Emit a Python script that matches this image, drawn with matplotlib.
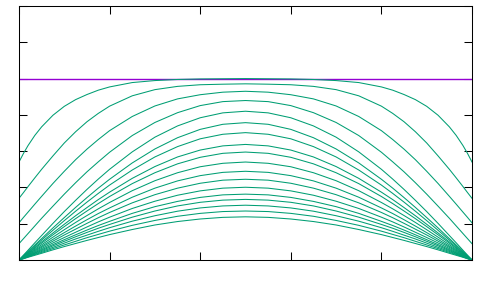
import matplotlib
matplotlib.use("Agg")
import matplotlib.pyplot as plt
import numpy as np

# x positions on the left half, the profiles are symmetric about x = 0.5
x_half = [0, 0.01, 0.02, 0.035, 0.05, 0.075, 0.1, 0.125, 0.15, 0.175,
          0.2, 0.25, 0.3, 0.35, 0.4, 0.45, 0.5]

# initial state
u0 = [1.0] * len(x_half)

# profiles, top to bottom
u1 = [0.540, 0.588, 0.631, 0.687, 0.734, 0.798, 0.847, 0.884, 0.912, 0.936, 0.954, 0.978, 0.989, 0.995, 0.998, 0.999, 1.000]
u2 = [0.340, 0.372, 0.405, 0.453, 0.500, 0.574, 0.645, 0.707, 0.762, 0.808, 0.848, 0.905, 0.939, 0.957, 0.966, 0.969, 0.971]
u3 = [0.205, 0.235, 0.264, 0.308, 0.351, 0.422, 0.489, 0.553, 0.611, 0.664, 0.713, 0.791, 0.849, 0.888, 0.911, 0.925, 0.930]
u4 = [0.090, 0.118, 0.146, 0.188, 0.230, 0.297, 0.363, 0.426, 0.486, 0.541, 0.594, 0.686, 0.758, 0.812, 0.851, 0.873, 0.879]
u5 = [0, 0.027, 0.054, 0.095, 0.135, 0.202, 0.267, 0.329, 0.389, 0.446, 0.500, 0.596, 0.677, 0.739, 0.784, 0.811, 0.820]
u6 = [0, 0.024, 0.048, 0.083, 0.118, 0.177, 0.234, 0.290, 0.344, 0.396, 0.445, 0.535, 0.612, 0.674, 0.720, 0.748, 0.757]
u7 = [0, 0.022, 0.044, 0.077, 0.110, 0.164, 0.217, 0.269, 0.319, 0.367, 0.413, 0.496, 0.568, 0.625, 0.668, 0.693, 0.702]
u8 = [0, 0.020, 0.040, 0.070, 0.100, 0.149, 0.197, 0.244, 0.289, 0.333, 0.374, 0.450, 0.515, 0.568, 0.606, 0.629, 0.637]
u9 = [0, 0.019, 0.037, 0.065, 0.093, 0.139, 0.184, 0.228, 0.270, 0.311, 0.350, 0.421, 0.481, 0.530, 0.566, 0.588, 0.595]
u10 = [0, 0.017, 0.034, 0.059, 0.084, 0.126, 0.167, 0.207, 0.245, 0.282, 0.317, 0.382, 0.437, 0.481, 0.514, 0.533, 0.540]
u11 = [0, 0.015, 0.031, 0.054, 0.076, 0.114, 0.151, 0.187, 0.222, 0.256, 0.287, 0.346, 0.396, 0.436, 0.465, 0.483, 0.489]
u12 = [0, 0.014, 0.028, 0.049, 0.070, 0.104, 0.138, 0.170, 0.202, 0.233, 0.262, 0.315, 0.360, 0.396, 0.423, 0.440, 0.445]
u13 = [0, 0.013, 0.025, 0.044, 0.063, 0.094, 0.124, 0.153, 0.182, 0.210, 0.236, 0.284, 0.324, 0.357, 0.381, 0.396, 0.401]
u14 = [0, 0.011, 0.023, 0.040, 0.057, 0.085, 0.112, 0.139, 0.165, 0.190, 0.213, 0.257, 0.294, 0.323, 0.345, 0.359, 0.363]
u15 = [0, 0.010, 0.021, 0.037, 0.052, 0.078, 0.103, 0.128, 0.152, 0.175, 0.196, 0.236, 0.270, 0.298, 0.318, 0.330, 0.334]
u16 = [0, 0.009, 0.019, 0.033, 0.047, 0.070, 0.093, 0.116, 0.137, 0.158, 0.178, 0.214, 0.244, 0.269, 0.287, 0.298, 0.302]
u17 = [0, 0.008, 0.017, 0.030, 0.042, 0.063, 0.083, 0.103, 0.123, 0.141, 0.159, 0.191, 0.218, 0.241, 0.257, 0.267, 0.270]
u18 = [0, 0.007, 0.015, 0.026, 0.037, 0.056, 0.074, 0.091, 0.108, 0.124, 0.140, 0.168, 0.193, 0.212, 0.226, 0.235, 0.238]

curves = [u1, u2, u3, u4, u5, u6, u7, u8, u9, u10, u11, u12, u13, u14, u15, u16, u17, u18]


def full(half):
    # mirror the left half onto the right half
    return list(half) + list(half[::-1][1:])


xs = np.array(x_half + [1 - v for v in x_half[::-1][1:]])

fig = plt.figure(figsize=(4.79, 2.96), dpi=100)
ax = fig.add_axes([19 / 479, 1 - 260 / 296, 453 / 479, 254 / 296])

ax.plot(xs, full(u0), color="#9400d3", lw=1.0)
for u in curves:
    ax.plot(xs, full(u), color="#009e73", lw=0.75)

ax.set_xlim(0, 1)
ax.set_ylim(0, 1.4)
ax.set_xticks(np.arange(0, 1.01, 0.2))
ax.set_yticks(np.arange(0, 1.41, 0.2))
ax.tick_params(direction="in", length=6, width=0.75, top=True, right=True,
               labelbottom=False, labelleft=False)
for s in ax.spines.values():
    s.set_linewidth(0.75)

fig.savefig("out.png", dpi=100)
